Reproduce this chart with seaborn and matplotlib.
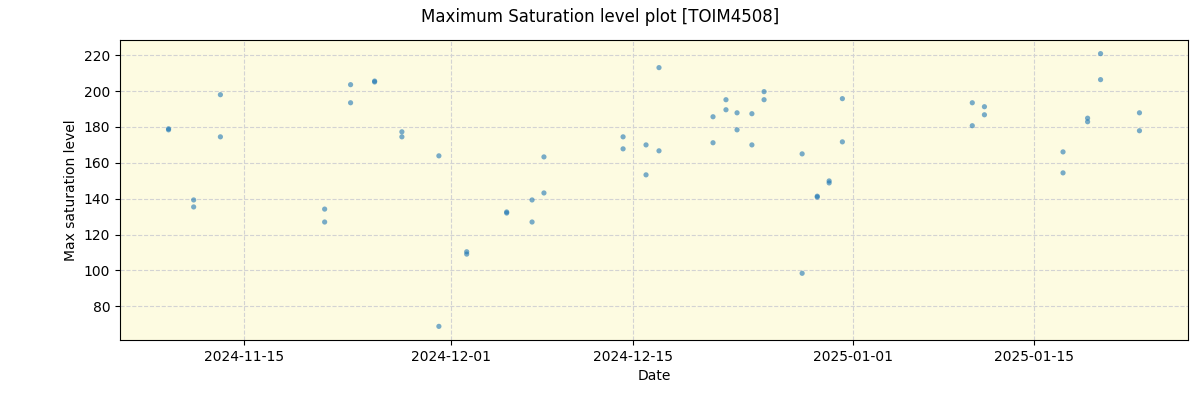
import pandas as pd
import matplotlib
matplotlib.use('Agg')
import matplotlib.pyplot as plt
import matplotlib.dates as mdates
import seaborn as sns

# Observation times (two measurements per night) and max saturation values
obs_times = [
    "2024-11-09 05:00", "2024-11-09 05:00",
    "2024-11-11 03:30", "2024-11-11 03:30",
    "2024-11-13 05:00", "2024-11-13 05:00",
    "2024-11-21 06:00", "2024-11-21 06:00",
    "2024-11-23 06:00", "2024-11-23 06:00",
    "2024-11-25 02:30", "2024-11-25 02:30",
    "2024-11-27 05:00", "2024-11-27 05:00",
    "2024-11-30 01:30", "2024-11-30 01:30",
    "2024-12-02 05:00", "2024-12-02 05:00",
    "2024-12-05 07:00", "2024-12-05 07:00",
    "2024-12-07 06:00", "2024-12-07 06:00",
    "2024-12-08 04:00", "2024-12-08 04:00",
    "2024-12-14 06:30", "2024-12-14 06:30",
    "2024-12-16 01:00", "2024-12-16 01:00",
    "2024-12-17 01:00", "2024-12-17 01:00",
    "2024-12-21 05:00", "2024-12-21 05:00",
    "2024-12-22 05:00", "2024-12-22 05:00",
    "2024-12-23 01:30", "2024-12-23 01:30",
    "2024-12-24 05:00", "2024-12-24 05:00",
    "2024-12-25 03:30", "2024-12-25 03:30",
    "2024-12-28 02:00", "2024-12-28 02:00",
    "2024-12-29 06:00", "2024-12-29 06:00",
    "2024-12-30 04:00", "2024-12-30 04:00",
    "2024-12-31 04:30", "2024-12-31 04:30",
    "2025-01-10 05:00", "2025-01-10 05:00",
    "2025-01-11 03:30", "2025-01-11 03:30",
    "2025-01-17 05:00", "2025-01-17 05:00",
    "2025-01-19 02:30", "2025-01-19 02:30",
    "2025-01-20 02:30", "2025-01-20 02:30",
    "2025-01-23 02:30", "2025-01-23 02:30",
]
max_saturation = [
    179.0, 178.4,
    139.3, 135.4,
    198.0, 174.5,
    134.2, 127.0,
    203.6, 193.5,
    205.6, 205.1,
    177.3, 174.5,
    163.9, 68.8,
    110.4, 109.1,
    132.6, 132.0,
    139.3, 127.0,
    163.3, 143.2,
    174.5, 167.8,
    170.0, 153.3,
    213.1, 166.7,
    171.2, 185.7,
    195.2, 189.6,
    187.9, 178.4,
    187.4, 170.0,
    199.7, 195.2,
    165.0, 98.4,
    141.4, 140.9,
    149.9, 148.8,
    195.8, 171.7,
    193.5, 180.7,
    191.3, 186.8,
    166.1, 154.4,
    184.9, 182.9,
    220.9, 206.4,
    187.9, 177.9,
]

df = pd.DataFrame({'Date': pd.to_datetime(obs_times), 'level': max_saturation})

fig, ax = plt.subplots(figsize=(12, 4), dpi=100)
fig.subplots_adjust(left=0.1, right=0.99, top=0.9, bottom=0.15)

sns.scatterplot(data=df, x='Date', y='level', ax=ax, s=14, alpha=0.6,
                color='tab:blue', edgecolor='none', zorder=3)

ax.set_facecolor('#fdfbe1')
ax.grid(True, linestyle='--', color='lightgray', linewidth=0.8)
ax.set_axisbelow(True)

ax.xaxis.set_major_locator(mdates.AutoDateLocator())
ax.xaxis.set_major_formatter(mdates.DateFormatter('%Y-%m-%d'))

ax.set_xlabel('Date')
ax.set_ylabel('Max saturation level')
fig.suptitle('Maximum Saturation level plot [TOIM4508]')

plt.savefig('out.png')
